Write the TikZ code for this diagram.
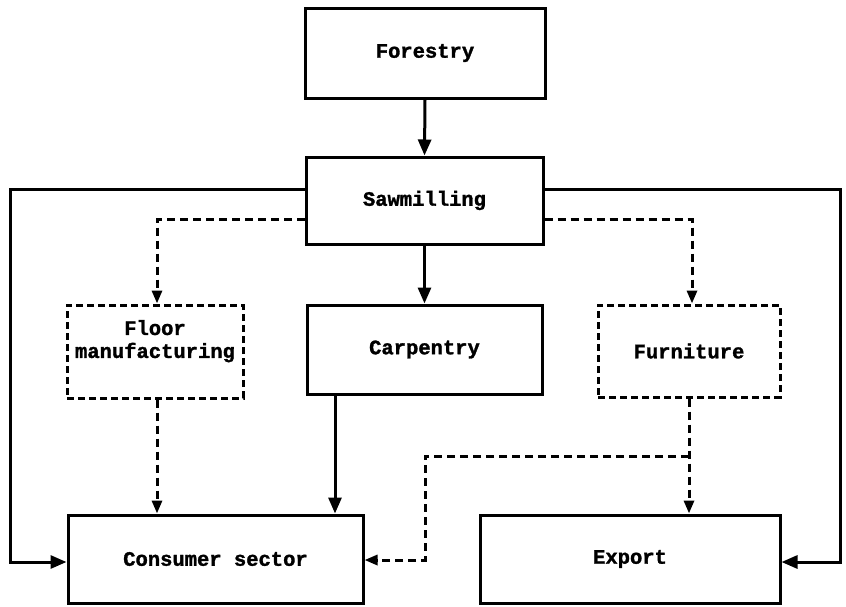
\documentclass[tikz,border=0pt]{standalone}
\usepackage{fontspec}
\setmonofont[BoldFeatures={FakeBold=1.5}]{Liberation Mono}
\usetikzlibrary{arrows.meta}

\begin{document}
\begin{tikzpicture}[x=1pt,y=-1pt,
  every node/.style={font=\ttfamily\bfseries\fontsize{20.5}{22}\selectfont},
  solidbox/.style={draw,line width=3pt,inner sep=0pt,align=center},
  dashbox/.style={draw,line width=3pt,dash pattern=on 7pt off 4pt,inner sep=0pt,align=center},
  flow/.style={line width=3pt,-{Triangle[length=16pt,width=13pt]}},
  optflow/.style={line width=3pt,dash pattern=on 8pt off 5pt,-{Triangle[length=13pt,width=10pt]}}
]
\useasboundingbox (0,0) rectangle (846,606);

% processing stages
\node[solidbox,minimum width=240pt,minimum height=90pt] (forest) at (425,53) {Forestry};
\node[solidbox,minimum width=237pt,minimum height=87pt] (saw) at (424.5,200.5) {Sawmilling};
\node[dashbox,minimum width=176pt,minimum height=93pt] (floor) at (155,351.5) {Floor\\[1pt]manufacturing\\[3pt]};
\node[solidbox,minimum width=235pt,minimum height=89pt] (carp) at (424.5,349.5) {Carpentry};
\node[dashbox,minimum width=182pt,minimum height=92pt] (furn) at (689,351) {Furniture};
\node[solidbox,minimum width=295pt,minimum height=88pt] (cons) at (215.5,559) {Consumer sector};
\node[solidbox,minimum width=300pt,minimum height=88pt] (exp) at (630,559) {Export};

% routing points for the outer rails and the furniture split
\coordinate (leftrail) at (10,400);
\coordinate (rightrail) at (840,400);
\coordinate (split) at (furn.south |- 0,456);
\coordinate (bend) at (425,500);

% main flow
\draw[flow] (forest.south) -- (saw.north);
\draw[flow] (saw.south) -- (carp.north);
\draw[flow] ([yshift=11.5pt]saw.west) -| (leftrail) |- ([yshift=-3pt]cons.west);
\draw[flow] ([yshift=11.5pt]saw.east) -| (rightrail) |- ([yshift=-3pt]exp.east);
\draw[flow] ([xshift=-89.5pt]carp.south) -- ([xshift=-89.5pt]carp.south |- cons.north);

% optional flows
\draw[optflow] ([yshift=-18.5pt]saw.west) -| ([xshift=2pt]floor.north);
\draw[optflow] ([yshift=-18.5pt]saw.east) -| ([xshift=3pt]furn.north);
\draw[optflow] ([xshift=2pt]floor.south) -- ([xshift=2pt]floor.south |- cons.north);
\draw[optflow] (furn.south) -- (furn.south |- exp.north);
\draw[optflow] (split) -| (bend) |- ([yshift=-1pt]cons.east);
\end{tikzpicture}
\end{document}
